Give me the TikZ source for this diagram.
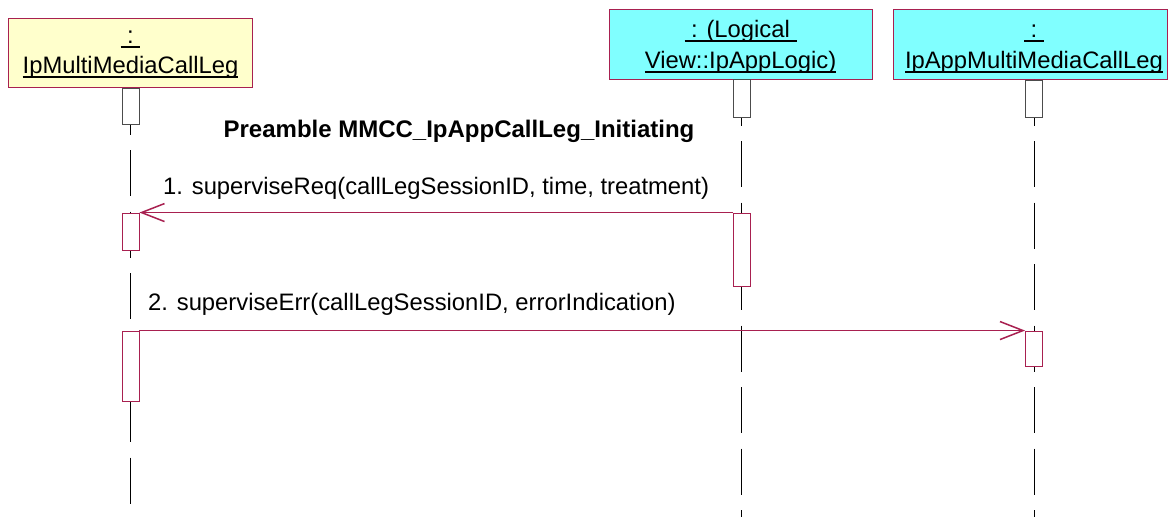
\documentclass[tikz,border=0pt]{standalone}
\usepackage{fontspec}
\setmainfont{Liberation Sans}
\usetikzlibrary{arrows.meta}
\definecolor{roseline}{RGB}{168,32,80}
\definecolor{objyellow}{RGB}{255,255,204}
\definecolor{objcyan}{RGB}{128,255,255}
\newsavebox\ulbox
\newcommand{\objname}[1]{\sbox\ulbox{#1}\rlap{\rule[-4.5pt]{\wd\ulbox}{1.3pt}}\usebox\ulbox}
\tikzstyle{objbox} = [draw=roseline, line width=1pt, inner sep=0pt]
\tikzstyle{objtext} = [anchor=base, inner sep=0pt, font=\fontsize{23.8}{28}\selectfont]
\tikzstyle{focus} = [draw=black!70, fill=white, line width=0.9pt, minimum width=17pt, inner sep=0pt]
\tikzstyle{focusred} = [focus, draw=roseline]
\tikzstyle{lifeline} = [line width=0.9pt, dash pattern=on 46pt off 15.5pt]
\tikzstyle{msg} = [draw=roseline, line width=1.2pt, -{Straight Barb[length=23pt,width=18pt,line width=1.5pt]}]
\tikzstyle{msglabel} = [anchor=base west, inner sep=0pt, font=\fontsize{23.8}{28}\selectfont]

\begin{document}
\begin{tikzpicture}[x=1pt, y=-1pt]
    \useasboundingbox (0,0) rectangle (1168,517);
    % objects
    \node[objbox, fill=objyellow, minimum width=244pt, minimum height=69pt] (mmcl) at (130,52.5) {};
    \node[objtext] (mmclA) at (130.5,43) {\objname{\ :\ }};
    \node[objtext] (mmclB) at (130.5,73) {\objname{IpMultiMediaCallLeg}};
    \node[objbox, fill=objcyan, minimum width=263pt, minimum height=70pt] (logic) at (740.5,44) {};
    \node[objtext] (logicA) at (740.5,37) {\objname{\ : (Logical\ }};
    \node[objtext] (logicB) at (740.5,68) {\objname{View::IpAppLogic)}};
    \node[objbox, fill=objcyan, minimum width=274pt, minimum height=70pt] (app) at (1030,44) {};
    \node[objtext] (appA) at (1034,37) {\objname{\ :\ }};
    \node[objtext] (appB) at (1034,68) {\objname{IpAppMultiMediaCallLeg}};
    % lifelines
    \coordinate (mmclEnd) at (130.5,504);
    \coordinate (logicEnd) at (741.5,517);
    \coordinate (appEnd) at (1034,517);
    \draw[lifeline] (130.5,88.5) -- (mmclEnd);
    \draw[lifeline] (741.5,79.5) -- (logicEnd);
    \draw[lifeline] (1034,79.5) -- (appEnd);
    % activations
    \node[focus, minimum height=36pt] (mmclAct0) at (130.5,106) {};
    \node[focus, minimum height=38pt] (logicAct0) at (741.5,98) {};
    \node[focus, minimum height=37pt] (appAct0) at (1034,98.5) {};
    \node[focusred, minimum height=37pt] (mmclAct1) at (130.5,231.5) {};
    \node[focusred, minimum height=73pt] (logicAct1) at (741.5,249.5) {};
    \node[focusred, minimum height=70pt] (mmclAct2) at (130.5,366) {};
    \node[focusred, minimum height=35pt] (appAct2) at (1034,348.5) {};
    % messages
    \node[font=\bfseries\fontsize{24}{28}\selectfont, anchor=base, inner sep=0pt] (pre) at (459,137) {Preamble MMCC\_IpAppCallLeg\_Initiating};
    \node[msglabel] (msg1) at (163,194) {1. superviseReq(callLegSessionID, time, treatment)};
    \draw[msg] (logicAct1.north west) -- (mmclAct1.north east);
    \node[msglabel] (msg2) at (148,310) {2. superviseErr(callLegSessionID, errorIndication)};
    \draw[msg] (mmclAct2.north east) -- (appAct2.north west);
\end{tikzpicture}
\end{document}
